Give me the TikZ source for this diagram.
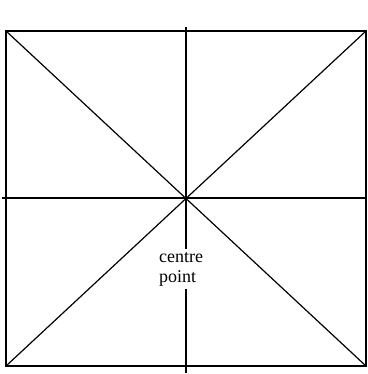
\documentclass[tikz,border=0pt]{standalone}
\usepackage{fontspec}
\setmainfont{Liberation Serif}
\usetikzlibrary{positioning}

\tikzset{
  frame/.style={draw,line width=1.6bp},
  guide/.style={draw,line width=1.2bp},
  label/.style={font=\fontsize{18bp}{20bp}\selectfont,align=left,inner xsep=0pt,inner ysep=2.5bp}
}

\begin{document}
\begin{tikzpicture}[x=1bp,y=-1bp]
  \useasboundingbox[fill=white] (0,0) rectangle (368,374);
  % corners of the square and its middle
  \coordinate (tl) at (6,31);
  \coordinate (tr) at (366,31);
  \coordinate (bl) at (6,366);
  \coordinate (br) at (366,366);
  \coordinate (c)  at (186,198);
  \coordinate (top) at (186,27);
  \coordinate (bot) at (186,373);
  \coordinate (left) at (2,198);

  \node[label] (lbl) at (181,269) {centre\\point};

  \draw[frame] (tl) rectangle (br);
  \draw[guide] (tl) -- (br);
  \draw[guide] (tr) -- (bl);
  \draw[guide] (left) -- (c -| br);
  \draw[guide] (top) -- (lbl.north -| c);
  \draw[guide] (lbl.south -| c) -- (bot);
\end{tikzpicture}
\end{document}
